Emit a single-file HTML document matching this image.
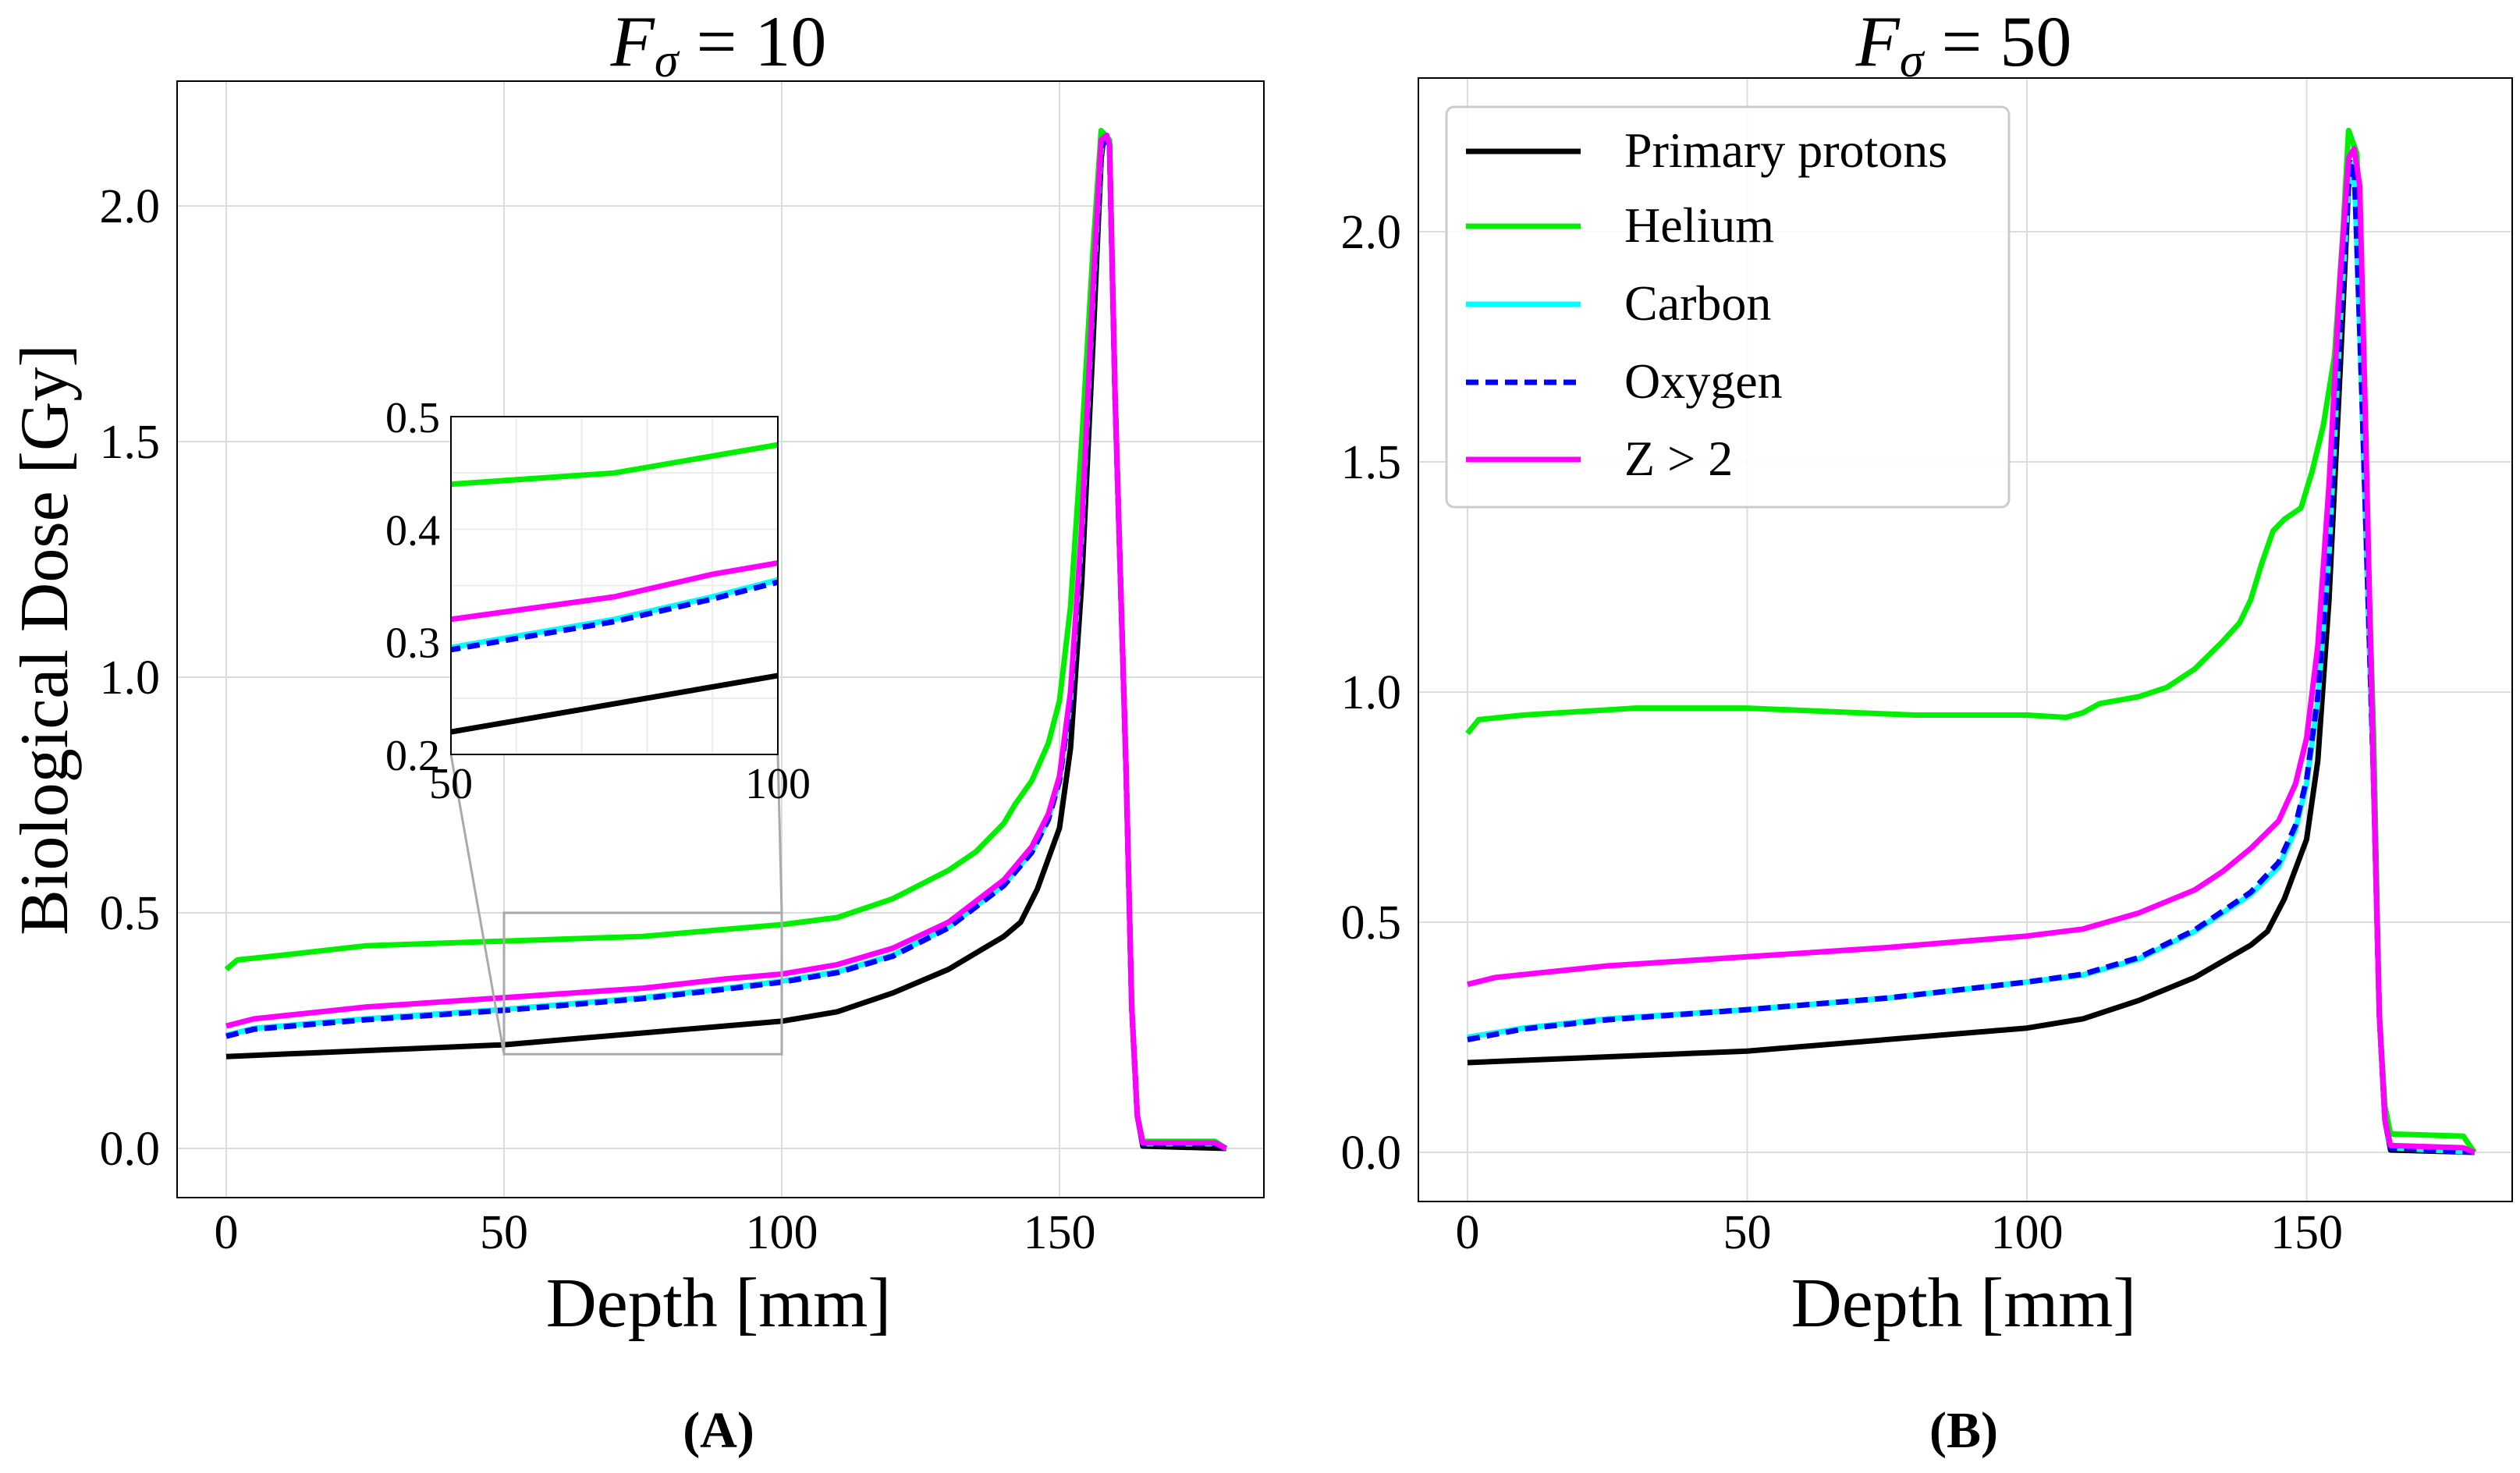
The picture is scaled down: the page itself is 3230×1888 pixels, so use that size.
<!DOCTYPE html>
<html><head><meta charset="utf-8">
<style>
html,body{margin:0;padding:0;background:#fff;}
svg{display:block;font-family:"Liberation Serif","DejaVu Serif",serif;}
</style></head>
<body>
<svg id="chart" width="3230" height="1888" viewBox="0 0 3230 1888" xmlns="http://www.w3.org/2000/svg"></svg>
<script>
// ---- Data (depth in mm, dose in Gy) ----
const xTicks = [0, 50, 100, 150];
const yTicks = [0.0, 0.5, 1.0, 1.5, 2.0];
const yTickLabels = ["0.0", "0.5", "1.0", "1.5", "2.0"];
const insetXTicks = [50, 100];
const insetYTicks = [0.2, 0.3, 0.4, 0.5];
const seriesNames = ["Primary protons", "Helium", "Carbon", "Oxygen", "Z > 2"];

// Panel A (F_sigma = 10)
const aProtonX = [0,50,100,110,120,130,140,143,146,150,152,154,156,157.5,158,159,160,162,163,164,165,180];
const aProtonY = [0.195,0.22,0.27,0.29,0.33,0.38,0.45,0.48,0.55,0.68,0.85,1.2,1.7,2.1,2.15,2.13,1.6,0.8,0.3,0.07,0.005,0];
const aHeliumX = [0,2,10,25,50,75,90,100,110,120,130,135,140,142,145,148,150,152,154,156,157.5,159,160,162,163,164,165,178,180];
const aHeliumY = [0.38,0.4,0.41,0.43,0.44,0.45,0.465,0.475,0.49,0.53,0.59,0.63,0.69,0.73,0.78,0.86,0.95,1.15,1.5,1.9,2.16,2.14,1.6,0.8,0.3,0.07,0.015,0.015,0];
const aCarbonX = [0,5,25,50,75,90,100,110,120,130,140,145,148,150,152,154,156,157.5,158.5,159,160,162,163,164,165,178,180];
const aCarbonY = [0.24,0.255,0.275,0.295,0.32,0.34,0.355,0.375,0.41,0.47,0.56,0.63,0.7,0.78,0.95,1.3,1.8,2.12,2.15,2.13,1.6,0.8,0.3,0.07,0.01,0.01,0];
const aOxygenX = aCarbonX;
const aOxygenY = [0.238,0.253,0.273,0.293,0.318,0.338,0.353,0.373,0.408,0.468,0.558,0.628,0.698,0.78,0.95,1.3,1.8,2.12,2.15,2.13,1.6,0.8,0.3,0.07,0.01,0.01,0];
const aZ2X = [0,5,25,50,75,90,100,110,120,130,140,145,148,150,152,154,156,157.5,158.5,159,160,162,163,164,165,178,180];
const aZ2Y = [0.26,0.275,0.3,0.32,0.34,0.36,0.37,0.39,0.425,0.48,0.57,0.64,0.71,0.79,0.97,1.32,1.82,2.14,2.15,2.13,1.6,0.8,0.3,0.07,0.012,0.012,0];

// Panel B (F_sigma = 50)
const bProtonX = aProtonX;
const bProtonY = [0.195,0.22,0.27,0.29,0.33,0.38,0.45,0.48,0.55,0.68,0.85,1.2,1.7,2.1,2.15,2.13,1.6,0.8,0.3,0.07,0.005,0];
const bHeliumX = [0,2,10,30,50,70,80,100,107,110,113,120,125,130,135,138,140,142,144,146,149,151,153,155,156.5,157.5,159,160,162,163,164,165,178,180];
const bHeliumY = [0.91,0.94,0.95,0.965,0.965,0.955,0.95,0.95,0.945,0.955,0.975,0.99,1.01,1.05,1.11,1.15,1.2,1.28,1.35,1.375,1.4,1.48,1.58,1.73,2.0,2.22,2.17,1.7,0.9,0.3,0.1,0.04,0.035,0];
const bCarbonX = [0,10,25,50,75,100,110,120,130,140,145,148,150,152,154,156,157.5,158.5,160,162,163,164,165,180];
const bCarbonY = [0.25,0.27,0.29,0.31,0.335,0.37,0.385,0.42,0.48,0.56,0.62,0.7,0.8,0.98,1.3,1.8,2.1,2.15,1.6,0.8,0.3,0.07,0.01,0];
const bOxygenX = bCarbonX;
const bOxygenY = [0.245,0.268,0.288,0.31,0.335,0.37,0.387,0.423,0.483,0.565,0.63,0.71,0.81,0.99,1.3,1.8,2.1,2.15,1.6,0.8,0.3,0.07,0.01,0];
const bZ2X = [0,5,25,50,75,100,110,120,130,135,140,145,148,150,152,154,156,157.5,158.5,159.5,160.5,162,163,164,165,178,180];
const bZ2Y = [0.365,0.38,0.405,0.425,0.445,0.47,0.485,0.52,0.57,0.61,0.66,0.72,0.8,0.9,1.1,1.45,1.9,2.16,2.18,2.1,1.6,0.8,0.3,0.07,0.015,0.01,0];

const colors = ["#000000", "#00ee00", "#00ffff", "#0000ff", "#ff00ff"];

const NS = "http://www.w3.org/2000/svg";
const svg = document.getElementById("chart");
function mk(tag, attrs, parent) {
  const e = document.createElementNS(NS, tag);
  for (const k in attrs) e.setAttribute(k, attrs[k]);
  (parent || svg).appendChild(e);
  return e;
}
function txt(s, attrs, parent) { const t = mk("text", attrs, parent); t.textContent = s; return t; }

function drawPanel(p) {
  const g = mk("g", {});
  
  
  const sx = v => p.x0 + (v - 0) * p.kx;
  const sy = v => p.y0 - v * p.ky;
  xTicks.forEach(t => {
    const l = mk("line", {x1: sx(t), x2: sx(t), y1: p.top, y2: p.bottom, stroke: "#dcdcdc", "stroke-width": 2}, g);
    
    
    const lb = txt(String(t), {x: sx(t), y: 1600, "font-size": 62, "text-anchor": "middle", fill: "#000"}, g);
    
    
  });
  yTicks.forEach((t, i) => {
    const l = mk("line", {x1: p.left, x2: p.right, y1: sy(t), y2: sy(t), stroke: "#dcdcdc", "stroke-width": 2}, g);
    
    
    const lb = txt(yTickLabels[i], {x: p.left - 22, y: sy(t) + 21, "font-size": 62, "text-anchor": "end", fill: "#000"}, g);
    
    
  });
  const group = mk("g", {}, g);
  
  
  p.series.forEach((s, i) => {
    const d = s[0].map((x, j) => (j ? "L" : "M") + sx(x).toFixed(1) + "," + sy(s[1][j]).toFixed(1)).join(" ");
    const path = mk("path", {d: d, fill: "none", stroke: colors[i], "stroke-width": 7, "stroke-linejoin": "round",
      "stroke-dasharray": i === 3 ? "16,9" : "none"}, group);
    
    
  });
  const fr = mk("rect", {x: p.left, y: p.top, width: p.right - p.left, height: p.bottom - p.top, fill: "none", stroke: "#000", "stroke-width": 2}, g);
  
  
  const tt = mk("text", {x: p.titleX, y: 84, "font-size": 92, "text-anchor": "middle"}, g);
  
  
  tt.innerHTML = '<tspan font-style="italic">F</tspan><tspan font-style="italic" font-size="62" dy="14">σ</tspan><tspan dy="-14"> = ' + p.fval + '</tspan>';
  const xl = txt("Depth [mm]", {x: p.titleX, y: 1700, "font-size": 90, "text-anchor": "middle"}, g);
  
  
  const pl = txt(p.tag, {x: p.titleX, y: 1855, "font-size": 66, "font-weight": "bold", "text-anchor": "middle"}, g);
  
  
  return {g, sx, sy};
}

const A = drawPanel({name: "panel-a", left: 227, right: 1620, top: 104, bottom: 1535, x0: 290, kx: 7.12, y0: 1472, ky: 604,
  titleX: 921, fval: "10", tag: "(A)",
  series: [[aProtonX, aProtonY], [aHeliumX, aHeliumY], [aCarbonX, aCarbonY], [aOxygenX, aOxygenY], [aZ2X, aZ2Y]]});
const yl = txt("Biological Dose [Gy]", {x: 0, y: 0, "font-size": 88, "text-anchor": "middle", transform: "translate(86,820) rotate(-90)"});



const zr = mk("rect", {x: A.sx(50), y: A.sy(0.5), width: A.sx(100) - A.sx(50), height: A.sy(0.2) - A.sy(0.5), fill: "none", stroke: "#aaaaaa", "stroke-width": 3});


const IL = 578, IR = 997, IT = 534, IB = 967;
const c1 = mk("line", {x1: IL, y1: IB, x2: A.sx(50), y2: A.sy(0.2), stroke: "#aaaaaa", "stroke-width": 3});


const c2 = mk("line", {x1: IR, y1: IB, x2: A.sx(100), y2: A.sy(0.5), stroke: "#aaaaaa", "stroke-width": 3});



const inset = mk("g", {});


mk("rect", {x: IL, y: IT, width: IR - IL, height: IB - IT, fill: "#fff"}, inset);
const isx = v => IL + (v - 50) / 50 * (IR - IL);
const isy = v => IB - (v - 0.2) / 0.3 * (IB - IT);
const clip = mk("clipPath", {id: "insetClip"}, inset);
mk("rect", {x: IL, y: IT, width: IR - IL, height: IB - IT}, clip);
for (let v = 50; v <= 100; v += 10) mk("line", {x1: isx(v), x2: isx(v), y1: IT, y2: IB, stroke: "#ececec", "stroke-width": 2}, inset);
for (let v = 0.2; v <= 0.5001; v += 0.05) mk("line", {x1: IL, x2: IR, y1: isy(v), y2: isy(v), stroke: "#ececec", "stroke-width": 2}, inset);
insetYTicks.forEach(t => {
  const l = txt(t.toFixed(1), {x: IL - 14, y: isy(t) + 20, "font-size": 56, "text-anchor": "end"}, inset);
  
  
});
insetXTicks.forEach(t => {
  const l = txt(String(t), {x: isx(t), y: IB + 56, "font-size": 56, "text-anchor": "middle"}, inset);
  
  
});
const insetSeries = [[aProtonX, aProtonY], [aHeliumX, aHeliumY], [aCarbonX, aCarbonY], [aOxygenX, aOxygenY], [aZ2X, aZ2Y]];
const ig = mk("g", {"clip-path": "url(#insetClip)"}, inset);
insetSeries.forEach((s, i) => {
  const d = s[0].map((x, j) => (j ? "L" : "M") + isx(x).toFixed(1) + "," + isy(s[1][j]).toFixed(1)).join(" ");
  const path = mk("path", {d: d, fill: "none", stroke: colors[i], "stroke-width": 7, "stroke-dasharray": i === 3 ? "16,9" : "none"}, ig);
  
  
});
mk("rect", {x: IL, y: IT, width: IR - IL, height: IB - IT, fill: "none", stroke: "#000", "stroke-width": 2}, inset);

const B = drawPanel({name: "panel-b", left: 1818, right: 3220, top: 100, bottom: 1540, x0: 1881, kx: 7.17, y0: 1477, ky: 590,
  titleX: 2517, fval: "50", tag: "(B)",
  series: [[bProtonX, bProtonY], [bHeliumX, bHeliumY], [bCarbonX, bCarbonY], [bOxygenX, bOxygenY], [bZ2X, bZ2Y]]});

const lg = mk("g", {});


mk("rect", {x: 1854, y: 137, width: 721, height: 513, rx: 10, fill: "#fff", "fill-opacity": 0.85, stroke: "#cccccc", "stroke-width": 3}, lg);
const legY = [194, 290, 390, 490, 589];
seriesNames.forEach((n, i) => {
  const e = mk("g", {}, lg);
  
  
  mk("line", {x1: 1879, x2: 2026, y1: legY[i], y2: legY[i], stroke: colors[i], "stroke-width": 7, "stroke-dasharray": i === 3 ? "16,9" : "none"}, e);
  txt(n, {x: 2082, y: legY[i] + 20, "font-size": 64}, e);
});
</script>
</body></html>
